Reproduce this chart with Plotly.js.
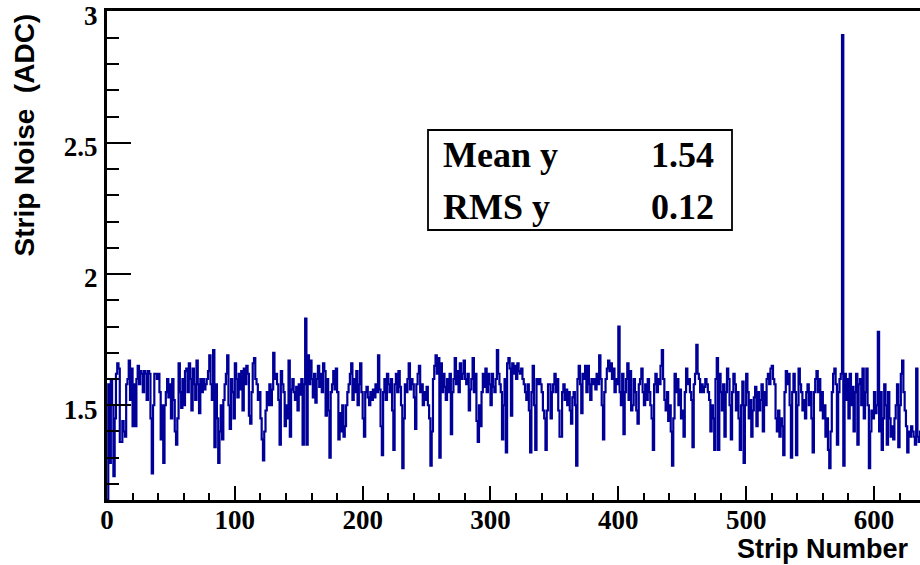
<!DOCTYPE html>
<html>
<head>
<meta charset="utf-8">
<script src="https://cdn.plot.ly/plotly-3.0.1.min.js"></script>
<style>html,body{margin:0;padding:0;background:#fff;}#chart{width:920px;height:565px;}</style>
</head>
<body>
<div id="chart"></div>
<script>
// Strip noise (ADC) per strip, strips 0..639
const noise_0_99 = [
1.14,1.58,1.28,1.60,1.50,1.23,1.45,1.62,1.66,1.64,1.36,1.36,1.44,1.40,1.38,1.58,1.60,1.67,1.52,1.64,
1.42,1.58,1.42,1.60,1.65,1.58,1.63,1.62,1.55,1.63,1.62,1.52,1.63,1.62,1.45,1.24,1.50,1.62,1.62,1.60,
1.62,1.55,1.37,1.50,1.28,1.50,1.55,1.60,1.53,1.58,1.45,1.60,1.52,1.40,1.35,1.45,1.66,1.55,1.49,1.60,
1.50,1.63,1.64,1.55,1.66,1.60,1.48,1.64,1.58,1.52,1.67,1.58,1.47,1.60,1.55,1.60,1.56,1.58,1.60,1.63,
1.69,1.58,1.52,1.71,1.34,1.58,1.45,1.28,1.40,1.50,1.37,1.52,1.58,1.62,1.69,1.50,1.41,1.60,1.55,1.45];
const noise_100_199 = [
1.66,1.60,1.53,1.62,1.56,1.63,1.48,1.64,1.58,1.65,1.62,1.46,1.43,1.55,1.66,1.68,1.60,1.58,1.52,1.55,
1.45,1.37,1.29,1.40,1.48,1.55,1.50,1.58,1.50,1.56,1.70,1.60,1.62,1.58,1.52,1.35,1.63,1.58,1.55,1.42,
1.50,1.45,1.67,1.38,1.56,1.60,1.55,1.52,1.57,1.48,1.58,1.54,1.60,1.35,1.58,1.83,1.35,1.69,1.58,1.67,
1.60,1.53,1.62,1.51,1.60,1.65,1.57,1.62,1.55,1.66,1.63,1.46,1.60,1.48,1.30,1.55,1.58,1.63,1.56,1.64,
1.55,1.37,1.47,1.40,1.50,1.38,1.42,1.50,1.55,1.58,1.62,1.66,1.52,1.60,1.55,1.63,1.50,1.58,1.66,1.55];
const noise_200_299 = [
1.45,1.38,1.55,1.57,1.53,1.50,1.55,1.52,1.56,1.53,1.58,1.55,1.69,1.56,1.42,1.31,1.55,1.60,1.52,1.62,
1.58,1.55,1.60,1.48,1.33,1.58,1.62,1.55,1.63,1.57,1.50,1.26,1.45,1.58,1.55,1.60,1.66,1.56,1.60,1.58,
1.53,1.41,1.58,1.62,1.65,1.55,1.58,1.50,1.55,1.52,1.57,1.50,1.45,1.27,1.40,1.60,1.65,1.69,1.62,1.68,
1.30,1.66,1.55,1.62,1.57,1.52,1.60,1.55,1.62,1.39,1.55,1.60,1.68,1.58,1.63,1.55,1.66,1.60,1.62,1.67,
1.60,1.58,1.62,1.48,1.56,1.60,1.68,1.55,1.62,1.44,1.36,1.50,1.42,1.55,1.62,1.57,1.64,1.55,1.62,1.58];
const noise_300_399 = [
1.50,1.62,1.57,1.55,1.60,1.71,1.62,1.58,1.55,1.37,1.50,1.60,1.32,1.66,1.68,1.64,1.46,1.66,1.62,1.65,
1.60,1.66,1.63,1.62,1.64,1.60,1.58,1.55,1.52,1.58,1.48,1.32,1.55,1.65,1.50,1.33,1.60,1.58,1.60,1.58,
1.55,1.48,1.45,1.33,1.48,1.58,1.58,1.45,1.55,1.58,1.62,1.55,1.60,1.48,1.38,1.38,1.55,1.58,1.52,1.56,
1.50,1.55,1.48,1.43,1.53,1.55,1.50,1.27,1.60,1.65,1.58,1.47,1.62,1.60,1.65,1.55,1.65,1.58,1.52,1.60,
1.58,1.60,1.56,1.62,1.58,1.69,1.60,1.50,1.37,1.55,1.60,1.64,1.67,1.63,1.66,1.60,1.64,1.55,1.60,1.58];
const noise_400_499 = [
1.80,1.55,1.50,1.62,1.39,1.55,1.60,1.66,1.52,1.63,1.48,1.50,1.60,1.55,1.48,1.43,1.58,1.60,1.64,1.55,
1.50,1.58,1.52,1.60,1.55,1.50,1.45,1.33,1.58,1.62,1.55,1.60,1.58,1.65,1.71,1.60,1.52,1.48,1.55,1.44,
1.50,1.40,1.27,1.45,1.62,1.55,1.60,1.50,1.56,1.45,1.48,1.38,1.55,1.64,1.58,1.60,1.55,1.52,1.34,1.58,
1.62,1.73,1.62,1.60,1.55,1.58,1.55,1.57,1.60,1.58,1.55,1.52,1.40,1.50,1.45,1.33,1.60,1.68,1.33,1.62,
1.55,1.48,1.58,1.38,1.55,1.64,1.60,1.50,1.37,1.55,1.62,1.58,1.48,1.55,1.45,1.33,1.50,1.59,1.28,1.50];
const noise_500_599 = [
1.62,1.55,1.45,1.52,1.38,1.48,1.53,1.57,1.42,1.55,1.48,1.52,1.58,1.40,1.55,1.50,1.60,1.62,1.58,1.64,
1.65,1.60,1.58,1.45,1.40,1.48,1.38,1.45,1.42,1.31,1.55,1.63,1.58,1.62,1.50,1.30,1.55,1.62,1.55,1.31,
1.50,1.64,1.58,1.55,1.48,1.52,1.45,1.55,1.58,1.50,1.55,1.45,1.32,1.55,1.60,1.63,1.55,1.60,1.48,1.55,
1.45,1.50,1.38,1.45,1.33,1.26,1.40,1.55,1.62,1.64,1.58,1.35,1.55,1.60,1.62,2.91,1.27,1.62,1.52,1.60,
1.45,1.62,1.50,1.57,1.40,1.55,1.62,1.35,1.58,1.60,1.50,1.64,1.45,1.55,1.64,1.50,1.26,1.40,1.48,1.45];
const noise_600_639 = [
1.55,1.47,1.50,1.78,1.40,1.55,1.33,1.45,1.58,1.50,1.35,1.55,1.45,1.38,1.42,1.37,1.45,1.50,1.58,1.34,
1.50,1.62,1.67,1.55,1.48,1.42,1.32,1.40,1.38,1.42,1.40,1.38,1.35,1.64,1.38,1.36,1.40,1.45,1.55,1.50];

const statLabels = ["Mean y", "RMS y"];
const statValues = ["1.54", "0.12"];
const xTitle = "Strip Number";
const yTitle = "Strip Noise  (ADC)";

const noise = [].concat(noise_0_99, noise_100_199, noise_200_299, noise_300_399,
                        noise_400_499, noise_500_599, noise_600_639);
// histogram bin lower edges, plus closing edge
const xs = noise.map((v, i) => i);
xs.push(noise.length);
const ys = noise.slice();
ys.push(noise[noise.length - 1]);

const serif = "Liberation Serif, Times New Roman, serif";
const sans = "Liberation Sans, Arial, Helvetica, sans-serif";

// pixel -> paper helpers for the fixed 920x565 layout
const L = 107, R = 0, T = 11, B = 65, W = 920, H = 565;
const pw = W - L - R, ph = H - T - B;
const px = p => (p - L) / pw;
const py = p => (H - B - p) / ph;

const trace = {
  x: xs, y: ys, type: "scatter", mode: "lines",
  line: {shape: "hv", color: "#000099", width: 2.2},
  hoverinfo: "skip", showlegend: false
};

const layout = {
  width: W, height: H,
  margin: {l: L, r: R, t: T, b: B, pad: 0},
  paper_bgcolor: "#ffffff", plot_bgcolor: "#ffffff",
  showlegend: false,
  xaxis: {
    range: [0, 636], showgrid: false, zeroline: false,
    showline: true, linecolor: "#000", linewidth: 3, mirror: true,
    ticks: "inside", tickcolor: "#000", tickwidth: 2, ticklen: 14,
    tick0: 0, dtick: 100,
    minor: {dtick: 20, ticks: "inside", ticklen: 7, tickwidth: 2, tickcolor: "#000", showgrid: false},
    tickfont: {family: serif, size: 27, color: "#000", weight: "bold"},
    ticklabelstandoff: -6,
    ticklabeloverflow: "allow"
  },
  yaxis: {
    range: [1.139, 3.002], showgrid: false, zeroline: false,
    showline: true, linecolor: "#000", linewidth: 3, mirror: false,
    ticks: "inside", tickcolor: "#000", tickwidth: 2, ticklen: 24,
    tick0: 0, dtick: 0.5,
    minor: {dtick: 0.1, ticks: "inside", ticklen: 12, tickwidth: 2, tickcolor: "#000", showgrid: false},
    tickfont: {family: serif, size: 27, color: "#000", weight: "bold"},
    ticklabelstandoff: 1,
    ticklabelshift: 4,
    ticklabeloverflow: "allow"
  },
  shapes: [{
    type: "rect", xref: "paper", yref: "paper",
    x0: px(428), x1: px(732), y0: py(230), y1: py(130),
    line: {color: "#000", width: 1.8}, fillcolor: "rgba(255,255,255,1)", layer: "above"
  }],
  annotations: [
    {text: xTitle, xref: "paper", yref: "paper", x: px(911), y: py(549),
     xanchor: "right", yanchor: "middle", showarrow: false,
     font: {family: sans, size: 27, color: "#000", weight: "bold"}},
    {text: yTitle, xref: "paper", yref: "paper", x: px(24), y: py(12),
     xanchor: "center", yanchor: "top", textangle: -90, showarrow: false,
     font: {family: sans, size: 28, color: "#000", weight: "bold"}},
    {text: statLabels[0], xref: "paper", yref: "paper", x: px(441), y: py(155),
     xanchor: "left", yanchor: "middle", showarrow: false,
     font: {family: serif, size: 36, color: "#000", weight: "bold"}},
    {text: statValues[0], xref: "paper", yref: "paper", x: px(716), y: py(155),
     xanchor: "right", yanchor: "middle", showarrow: false,
     font: {family: serif, size: 36, color: "#000", weight: "bold"}},
    {text: statLabels[1], xref: "paper", yref: "paper", x: px(441), y: py(207),
     xanchor: "left", yanchor: "middle", showarrow: false,
     font: {family: serif, size: 36, color: "#000", weight: "bold"}},
    {text: statValues[1], xref: "paper", yref: "paper", x: px(716), y: py(207),
     xanchor: "right", yanchor: "middle", showarrow: false,
     font: {family: serif, size: 36, color: "#000", weight: "bold"}}
  ]
};

Plotly.newPlot("chart", [trace], layout, {displayModeBar: false, staticPlot: true});
</script>
</body>
</html>
